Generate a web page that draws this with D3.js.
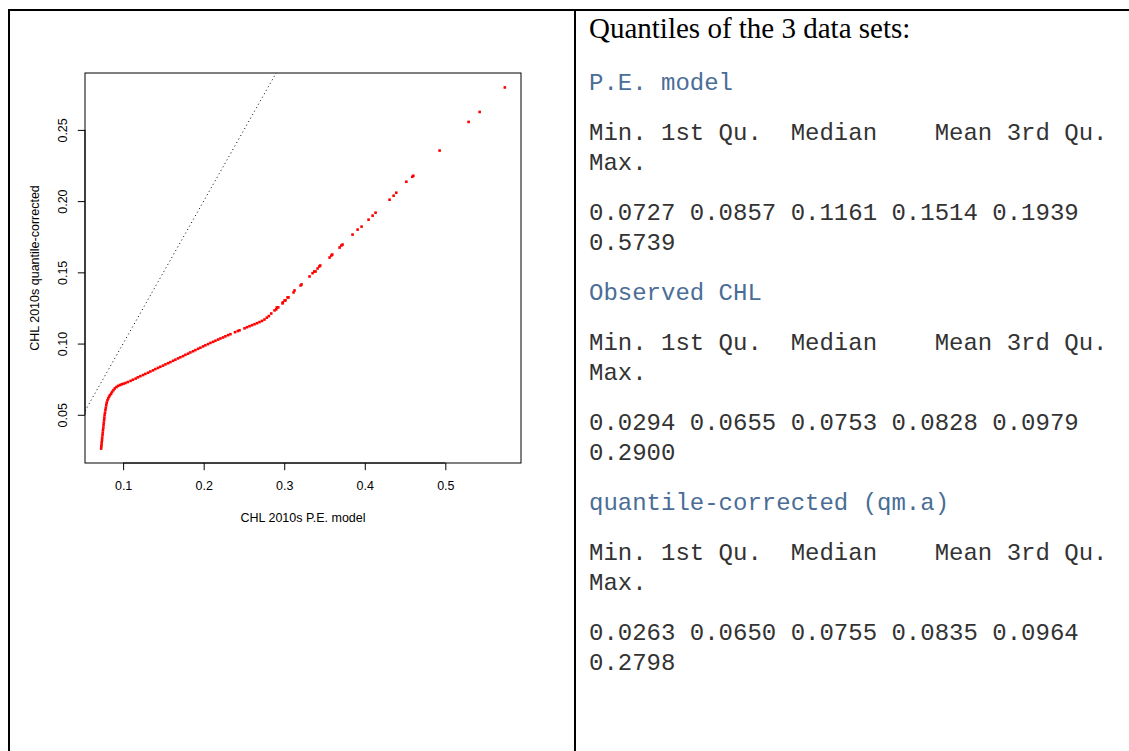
<!DOCTYPE html>
<html>
<head>
<meta charset="utf-8">
<script src="https://cdn.jsdelivr.net/npm/d3@7"></script>
<style>
  html, body { margin: 0; padding: 0; background: #fff; }
  svg { display: block; }
  .pre { white-space: pre; }
</style>
</head>
<body>
<svg id="fig" width="1129" height="751"></svg>
<script>
// Sorted quantile pairs: CHL 2010s P.E. model (x) vs quantile-corrected (y)
const peModelQ = [
  0.0727,0.0729,0.0732,0.0734,0.0738,0.0740,0.0744,0.0747,0.0750,0.0754,0.0757,0.0760,0.0764,0.0767,0.0770,
  0.0775,0.0780,0.0785,0.0791,0.0796,0.0805,0.0815,0.0825,0.0837,0.0851,0.0863,0.0880,0.0896,0.0917,0.0938,
  0.0962,0.0983,0.1004,
  0.1029,0.1058,0.1092,0.1121,0.1155,0.1183,0.1214,0.1247,0.1276,0.1309,0.1338,0.1371,0.1400,0.1433,0.1462,
  0.1495,0.1525,0.1558,0.1587,0.1620,0.1649,0.1682,0.1711,0.1744,0.1773,0.1806,0.1835,0.1868,0.1897,0.1930,
  0.1959,0.1992,0.2021,0.2054,0.2084,0.2117,0.2146,0.2179,0.2208,0.2241,0.2270,0.2303,0.2332,
  0.2389,0.2424,0.2445,
  0.2507,0.2538,0.2569,0.2600,0.2631,0.2662,0.2693,0.2724,0.2755,0.2784,0.2809,0.2839,
  0.2880,0.2901,0.2908,0.2926,0.2979,0.2983,0.3004,0.3016,0.3041,0.3053,0.3116,0.3128,0.3203,0.3215,0.3314,
  0.3352,0.3373,0.3389,0.3414,0.3435,0.3447,0.3563,0.3584,0.3596,0.3687,0.3708,0.3724,0.3848,0.3911,0.3960,
  0.4047,0.4097,0.4134,0.4308,0.4358,0.4391,0.4516,0.4590,0.4603,0.4929,0.5289,0.5426,0.5739
];
const qmCorrectedQ = [
  0.0263,0.0277,0.0291,0.0307,0.0323,0.0340,0.0358,0.0375,0.0393,0.0410,0.0428,0.0445,0.0463,0.0480,0.0498,
  0.0515,0.0533,0.0550,0.0568,0.0585,0.0601,0.0615,0.0627,0.0638,0.0648,0.0661,0.0673,0.0685,0.0695,0.0703,
  0.0709,0.0714,0.0718,
  0.0723,0.0730,0.0738,0.0746,0.0754,0.0763,0.0771,0.0779,0.0787,0.0795,0.0804,0.0812,0.0821,0.0829,0.0837,
  0.0845,0.0854,0.0862,0.0870,0.0879,0.0887,0.0896,0.0904,0.0912,0.0921,0.0929,0.0938,0.0946,0.0954,0.0963,
  0.0971,0.0980,0.0988,0.0996,0.1005,0.1012,0.1020,0.1028,0.1036,0.1043,0.1051,0.1059,0.1066,
  0.1080,0.1088,0.1093,
  0.1107,0.1115,0.1122,0.1129,0.1136,0.1143,0.1151,0.1159,0.1169,0.1182,0.1193,0.1211,
  0.1233,0.1240,0.1254,0.1254,0.1282,0.1289,0.1303,0.1303,0.1324,0.1324,0.1359,0.1373,0.1408,0.1415,0.1471,
  0.1494,0.1506,0.1506,0.1527,0.1541,0.1548,0.1604,0.1618,0.1625,0.1674,0.1688,0.1695,0.1765,0.1800,0.1821,
  0.1870,0.1898,0.1919,0.2010,0.2038,0.2059,0.2136,0.2171,0.2178,0.2355,0.2556,0.2626,0.2798
];

const xTicks = [0.1, 0.2, 0.3, 0.4, 0.5];
const yTicks = [0.05, 0.10, 0.15, 0.20, 0.25];
const xTitle = "CHL 2010s P.E. model";
const yTitle = "CHL 2010s quantile-corrected";

// Summary statistics of the three data sets
const statNames = ["Min.", "1st Qu.", "Median", "Mean", "3rd Qu.", "Max."];
const setNames = ["P.E. model", "Observed CHL", "quantile-corrected (qm.a)"];
const peModelStats = [0.0727, 0.0857, 0.1161, 0.1514, 0.1939, 0.5739];
const observedStats = [0.0294, 0.0655, 0.0753, 0.0828, 0.0979, 0.2900];
const correctedStats = [0.0263, 0.0650, 0.0755, 0.0835, 0.0964, 0.2798];
const heading = "Quantiles of the 3 data sets:";

const svg = d3.select("#fig");
const sans = "'Liberation Sans', Arial, Helvetica, sans-serif";
const serif = "'Liberation Serif', 'Times New Roman', serif";
const mono = "'Liberation Mono', 'Courier New', monospace";
const axisFont = "12.5px";

// ---- table frame ----
const frame = svg.append("g").attr("stroke", "#000").attr("stroke-width", 2);
frame.append("line").attr("x1", 8).attr("x2", 1129).attr("y1", 10).attr("y2", 10);
frame.append("line").attr("x1", 9).attr("x2", 9).attr("y1", 9).attr("y2", 751);
frame.append("line").attr("x1", 575).attr("x2", 575).attr("y1", 9).attr("y2", 751);

// ---- QQ plot (R base-graphics style) ----
const plot = { left: 85, right: 521, top: 73, bottom: 463 };
const pad = ext => { const r = ext[1] - ext[0]; return [ext[0] - 0.04 * r, ext[1] + 0.04 * r]; };
const x = d3.scaleLinear().domain(pad(d3.extent(peModelQ))).range([plot.left, plot.right]);
const y = d3.scaleLinear().domain(pad(d3.extent(qmCorrectedQ))).range([plot.bottom, plot.top]);

svg.append("defs").append("clipPath").attr("id", "plotClip")
  .append("rect")
  .attr("x", plot.left).attr("y", plot.top)
  .attr("width", plot.right - plot.left).attr("height", plot.bottom - plot.top);

// 1:1 reference line (dotted)
const lo = Math.max(x.domain()[0], y.domain()[0]);
const hi = Math.min(x.domain()[1], y.domain()[1]);
svg.append("line")
  .attr("clip-path", "url(#plotClip)")
  .attr("x1", x(lo)).attr("y1", y(lo))
  .attr("x2", x(hi)).attr("y2", y(hi))
  .attr("stroke", "#000").attr("stroke-width", 1)
  .attr("stroke-dasharray", "1,3");

// quantile points
const pts = peModelQ.map((v, i) => [v, qmCorrectedQ[i]]);
const s = 2.6;
svg.append("g").attr("fill", "#ff0000")
  .selectAll("rect").data(pts).join("rect")
  .attr("x", d => x(d[0]) - s / 2)
  .attr("y", d => y(d[1]) - s / 2)
  .attr("width", s).attr("height", s);

// box
svg.append("rect")
  .attr("x", plot.left).attr("y", plot.top)
  .attr("width", plot.right - plot.left).attr("height", plot.bottom - plot.top)
  .attr("fill", "none").attr("stroke", "#000").attr("stroke-width", 1);

// axes
const xAxis = d3.axisBottom(x).tickValues(xTicks).tickFormat(d3.format(".1f"))
  .tickSizeInner(7.2).tickSizeOuter(0).tickPadding(11);
const gx = svg.append("g").attr("transform", `translate(0,${plot.bottom})`).call(xAxis);
gx.select(".domain").attr("d", `M${x(xTicks[0])},0H${x(xTicks[xTicks.length - 1])}`);

const yAxis = d3.axisLeft(y).tickValues(yTicks).tickFormat(d3.format(".2f"))
  .tickSizeInner(7.2).tickSizeOuter(0).tickPadding(0);
const gy = svg.append("g").attr("transform", `translate(${plot.left},0)`).call(yAxis);
gy.select(".domain").attr("d", `M0,${y(yTicks[0])}V${y(yTicks[yTicks.length - 1])}`);

[gx, gy].forEach(g => {
  g.selectAll("path,line").attr("stroke", "#000").attr("stroke-width", 1);
  g.selectAll("text").attr("fill", "#000")
    .style("font-family", sans).style("font-size", axisFont);
});
// rotated y tick labels, R style (las = 0)
gy.selectAll(".tick text")
  .attr("x", null).attr("dy", null)
  .attr("text-anchor", "middle")
  .attr("transform", "translate(-18.5,0) rotate(-90)");

svg.append("text")
  .attr("x", (plot.left + plot.right) / 2).attr("y", 521.5)
  .attr("text-anchor", "middle")
  .style("font-family", sans).style("font-size", axisFont)
  .text(xTitle);
svg.append("text")
  .attr("transform", `translate(39,${(plot.top + plot.bottom) / 2}) rotate(-90)`)
  .attr("text-anchor", "middle")
  .style("font-family", sans).style("font-size", axisFont)
  .text(yTitle);

// ---- summary text panel ----
const tx = 589;
svg.append("text")
  .attr("x", tx).attr("y", 38)
  .style("font-family", serif).style("font-size", "29px").attr("fill", "#000")
  .text(heading);

const header = statNames.map(n => n.padStart(7, " "));
const fmt = v => v.toFixed(4);
const blocks = [peModelStats, observedStats, correctedStats];
blocks.forEach((vals, b) => {
  const base = 90 + b * 210;
  const lines = [
    { t: setNames[b], y: base, c: "#4a6d96" },
    { t: header.slice(0, 5).join(" ").trimStart(), y: base + 50, c: "#333" },
    { t: header[5].trim(), y: base + 80, c: "#333" },
    { t: vals.slice(0, 5).map(fmt).join(" "), y: base + 130, c: "#333" },
    { t: fmt(vals[5]), y: base + 160, c: "#333" }
  ];
  lines.forEach(l => {
    svg.append("text").attr("class", "pre")
      .attr("x", tx).attr("y", l.y)
      .style("font-family", mono).style("font-size", "24px")
      .attr("fill", l.c)
      .text(l.t);
  });
});
</script>
</body>
</html>
